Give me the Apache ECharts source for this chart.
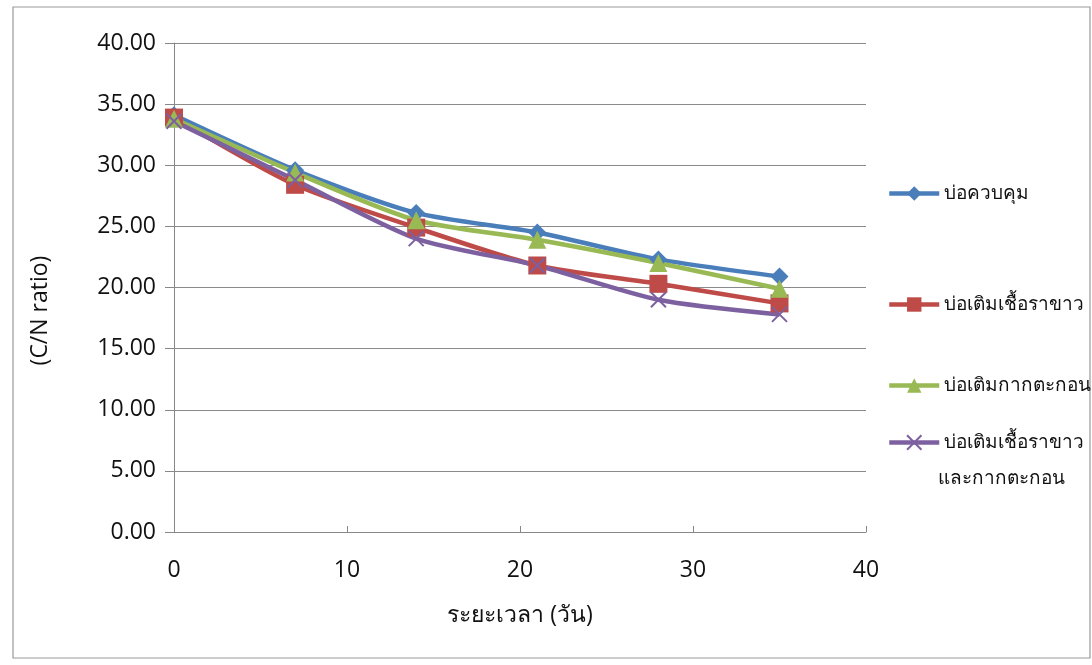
<!DOCTYPE html>
<html>
<head>
<meta charset="utf-8">
<script src="https://cdn.jsdelivr.net/npm/echarts@6/dist/echarts.min.js"></script>
<style>
  html, body { margin: 0; padding: 0; background: #fff; }
  #chart { width: 1092px; height: 665px; }
</style>
</head>
<body>
<div id="chart"></div>
<script>
// days of sampling
const days = [0, 7, 14, 21, 28, 35];

// C/N ratio per pond
const control = [34.1, 29.6, 26.1, 24.5, 22.3, 20.9];
const fungus = [33.9, 28.4, 24.9, 21.8, 20.3, 18.7];
const sludge = [33.8, 29.4, 25.5, 23.9, 22.0, 19.9];
const fungusSludge = [33.6, 28.8, 24.0, 21.8, 19.0, 17.8];

const seriesNames = [
  'บ่อควบคุม',
  'บ่อเติมเชื้อราขาว',
  'บ่อเติมกากตะกอน',
  'บ่อเติมเชื้อราขาวและกากตะกอน',
];

const yTicks = [0, 5, 10, 15, 20, 25, 30, 35, 40];
const xTicks = [0, 10, 20, 30, 40];

const colors = ['#4a7ebb', '#be4b48', '#98b954', '#7d60a0'];
const font = '"Open Sans", sans-serif';

const chart = echarts.init(document.getElementById('chart'));

const pairs = (ys) => days.map((d, i) => [d, ys[i]]);

const crossPath = 'path://M0,0L10,10M10,0L0,10';

const makeSeries = (name, ys, color, symbol, size, extra) => Object.assign({
  name: name,
  type: 'line',
  data: pairs(ys),
  smooth: 0.25,
  symbol: symbol,
  symbolSize: size,
  lineStyle: { width: 4.5, color: color },
  itemStyle: { color: color },
  z: 2,
}, extra || {});

const legendBase = {
  orient: 'vertical',
  left: 882,
  itemWidth: 50,
  itemHeight: 18,
  itemGap: 0,
  textStyle: { fontFamily: font, fontSize: 19, color: '#111' },
  lineStyle: { width: 4.5 },
};

const option = {
  backgroundColor: '#fff',
  animation: false,
  color: colors,
  grid: { left: 174, right: 226, top: 43, bottom: 133 },
  legend: [
    Object.assign({}, legendBase, { top: 179, data: [seriesNames[0]] }),
    Object.assign({}, legendBase, { top: 290, data: [seriesNames[1]] }),
    Object.assign({}, legendBase, { top: 371, data: [seriesNames[2]] }),
    Object.assign({}, legendBase, {
      top: 428,
      data: [seriesNames[3]],
      formatter: () => 'บ่อเติมเชื้อราขาว',
    }),
  ],
  xAxis: {
    type: 'value',
    min: 0,
    max: 40,
    interval: 10,
    name: 'ระยะเวลา (วัน)',
    nameLocation: 'middle',
    nameGap: 72,
    nameTextStyle: { fontFamily: font, fontSize: 23, color: '#111' },
    axisLine: { show: true, lineStyle: { color: '#888', width: 1 } },
    axisTick: { show: true, length: 6, inside: true, lineStyle: { color: '#888' } },
    axisLabel: { fontFamily: font, fontSize: 23, color: '#111', margin: 27 },
    splitLine: { show: false },
  },
  yAxis: {
    type: 'value',
    min: 0,
    max: 40,
    interval: 5,
    name: '(C/N ratio)',
    nameLocation: 'middle',
    nameGap: 122,
    nameTextStyle: { fontFamily: font, fontSize: 23, color: '#111', padding: [0, 46, 0, 0] },
    axisLine: { show: true, lineStyle: { color: '#888', width: 1 } },
    axisTick: { show: true, length: 9, lineStyle: { color: '#888' } },
    axisLabel: {
      fontFamily: font, fontSize: 23, color: '#111', margin: 18,
      formatter: (v) => v.toFixed(2),
    },
    splitLine: { show: true, lineStyle: { color: '#8a8a8a', width: 1.2 } },
  },
  series: [
    makeSeries(seriesNames[0], control, colors[0], 'diamond', 18),
    makeSeries(seriesNames[1], fungus, colors[1], 'rect', 18),
    makeSeries(seriesNames[2], sludge, colors[2], 'triangle', 18),
    makeSeries(seriesNames[3], fungusSludge, colors[3], crossPath, 15, {
      itemStyle: { color: colors[3], borderColor: colors[3], borderWidth: 2 },
    }),
  ],
  graphic: [
    {
      type: 'rect',
      shape: { x: 13, y: 7, width: 1077, height: 651 },
      style: { fill: 'none', stroke: '#999', lineWidth: 1.2 },
      silent: true,
      z: -1,
    },
    {
      // second line of the last legend entry
      type: 'text',
      left: 938,
      top: 469,
      style: { text: 'และกากตะกอน', font: '19px ' + font, fill: '#111' },
      silent: true,
    },
  ],
};

chart.setOption(option);
</script>
</body>
</html>
